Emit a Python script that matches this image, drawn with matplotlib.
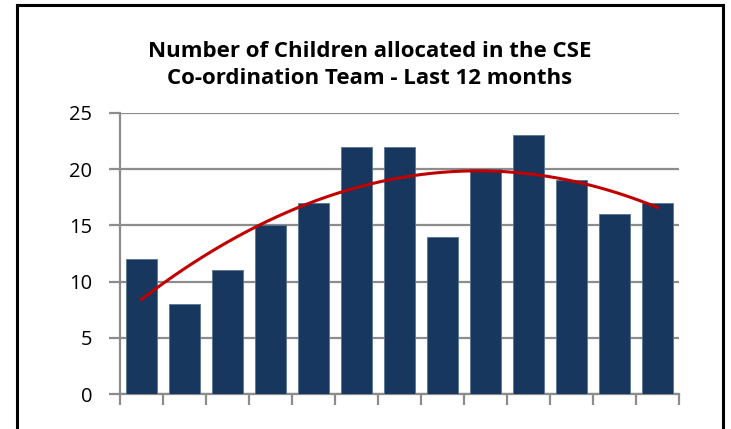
import matplotlib
matplotlib.use("Agg")
import matplotlib.pyplot as plt
from matplotlib.lines import Line2D
import numpy as np

months = list(range(1, 14))
children = [12, 8, 11, 15, 17, 22, 22, 14, 20, 23, 19, 16, 17]
yticks = [0, 5, 10, 15, 20, 25]
title = "Number of Children allocated in the CSE\nCo-ordination Team - Last 12 months"

W, H = 731, 429
fig = plt.figure(figsize=(W / 100, H / 100), dpi=100)
ax = fig.add_axes([120 / W, 1 - 394 / H, (679 - 120) / W, (394 - 113) / H])

x = np.arange(len(children))
ax.bar(x, children, width=0.70, color="#17375E", edgecolor="#5A7494", linewidth=0.6, zorder=3)

# polynomial (order 2) trendline as in the spreadsheet chart
coef = np.polyfit(x, children, 2)
xs = np.linspace(x[0], x[-1], 200)
ax.plot(xs, np.polyval(coef, xs), color="#C00000", linewidth=2.2, zorder=4)

ax.set_xlim(-0.5, len(children) - 0.5)
ax.set_ylim(0, 25)
ax.set_yticks(yticks)
ax.set_yticklabels([str(v) for v in yticks], fontsize=14.5, family="Open Sans")
ax.set_xticks(np.arange(len(children) + 1) - 0.5)
ax.set_xticklabels([])
ax.grid(axis="y", color="#8C8C8C", linewidth=1.6, zorder=0)
for s in ["top", "right"]:
    ax.spines[s].set_visible(False)
for s in ["left", "bottom"]:
    ax.spines[s].set_color("#8C8C8C")
    ax.spines[s].set_linewidth(1.6)
ax.tick_params(axis="both", color="#8C8C8C", width=1.6, length=8, direction="out", pad=12)

fig.text(370 / W, 1 - 65 / H, title, ha="center", va="center", fontsize=16,
         fontweight="bold", family="Open Sans", linespacing=1.4)

# outer border (bottom cropped)
lw = 2.2
fig.add_artist(Line2D([16.5 / W, 16.5 / W], [0, 1 - 5 / H], color="black", linewidth=lw))
fig.add_artist(Line2D([16.5 / W, 723 / W], [1 - 5 / H, 1 - 5 / H], color="black", linewidth=lw))
fig.add_artist(Line2D([723 / W, 723 / W], [0, 1 - 5 / H], color="black", linewidth=lw))

fig.savefig("out.png", dpi=100)
